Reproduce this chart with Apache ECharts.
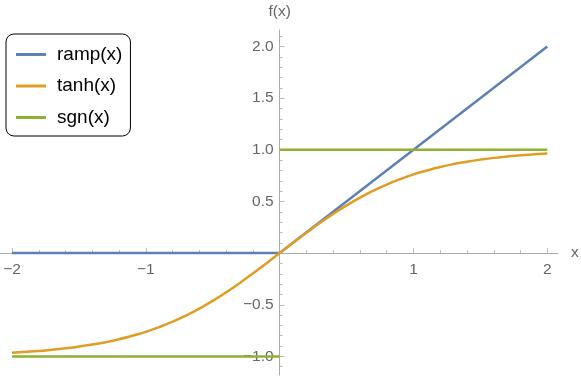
<!DOCTYPE html>
<html lang="en">
  <head>
    <meta charset="UTF-8" />
    <title>ramp, tanh, sgn</title>
    <script src="https://cdn.jsdelivr.net/npm/echarts@6.0.0/dist/echarts.min.js"></script>
    <style>
      html, body { margin: 0; padding: 0; background: #fff; }
      #chart { width: 581px; height: 377px; }
    </style>
  </head>
  <body>
    <div id="chart"></div>

    <script>
      // values
      var rampData = [[-2, 0], [0, 0], [2, 2]]
      var tanhData = [
        [-2, -0.964], [-1.9, -0.956], [-1.8, -0.947], [-1.7, -0.935], [-1.6, -0.922],
        [-1.5, -0.905], [-1.4, -0.885], [-1.3, -0.862], [-1.2, -0.834], [-1.1, -0.8],
        [-1, -0.762], [-0.9, -0.716], [-0.8, -0.664], [-0.7, -0.604], [-0.6, -0.537],
        [-0.5, -0.462], [-0.4, -0.38], [-0.3, -0.291], [-0.2, -0.197], [-0.1, -0.1],
        [0, 0], [0.1, 0.1], [0.2, 0.197], [0.3, 0.291], [0.4, 0.38],
        [0.5, 0.462], [0.6, 0.537], [0.7, 0.604], [0.8, 0.664], [0.9, 0.716],
        [1, 0.762], [1.1, 0.8], [1.2, 0.834], [1.3, 0.862], [1.4, 0.885],
        [1.5, 0.905], [1.6, 0.922], [1.7, 0.935], [1.8, 0.947], [1.9, 0.956], [2, 0.964]
      ]
      var sgnData = [[-2, -1], [0, -1], [0, "-"], [0, 1], [2, 1]]

      var seriesNames = ["ramp(x)", "tanh(x)", "sgn(x)"]
      var colors = ["#5E81B5", "#E19C24", "#8FB032"]

      // ticks and tick labels
      var xMajor = [-2, -1, 1, 2]
      var xMinor = [-1.8, -1.6, -1.4, -1.2, -0.8, -0.6, -0.4, -0.2, 0.2, 0.4, 0.6, 0.8, 1.2, 1.4, 1.6, 1.8]
      var yMajor = [-1, -0.5, 0.5, 1, 1.5, 2]
      var yMinor = [-1.1, -0.9, -0.8, -0.7, -0.6, -0.4, -0.3, -0.2, -0.1, 0.1, 0.2, 0.3, 0.4, 0.6, 0.7, 0.8, 0.9, 1.1, 1.2, 1.3, 1.4, 1.6, 1.7, 1.8, 1.9, 2.1]

      var font = "'Liberation Sans', Arial, sans-serif"
      var axisColor = "#aaa"
      var tickColor = "#bbb"
      var labelColor = "#666"

      function minus(s) {
        return String(s).replace("-", "\u2212")
      }

      var W = 581, H = 377
      var gridBox = { left: 0, right: 23, top: 30, bottom: 2 }
      var xRange = { min: -2.09, max: 2.08 }
      var yRange = { min: -1.18, max: 2.16 }

      // the axes cross at the origin: shift them in from the grid edges
      var gridW = W - gridBox.left - gridBox.right
      var gridH = H - gridBox.top - gridBox.bottom
      var xAxisOffset = -gridH * (0 - yRange.min) / (yRange.max - yRange.min)
      var yAxisOffset = -gridW * (0 - xRange.min) / (xRange.max - xRange.min)

      var chart = echarts.init(document.getElementById("chart"))

      function xAxisDef(ticks, len, main) {
        return {
          type: "value",
          min: xRange.min,
          max: xRange.max,
          position: "bottom",
          offset: xAxisOffset,
          name: main ? "x" : "",
          nameLocation: "end",
          nameGap: 13,
          nameTextStyle: { color: labelColor, fontSize: 15.5, fontFamily: font, padding: [3, 0, 0, 0] },
          axisLine: { show: main, onZero: false, lineStyle: { color: axisColor, width: 1 } },
          axisTick: { show: true, inside: true, length: len, customValues: ticks, lineStyle: { color: tickColor } },
          axisLabel: {
            show: main,
            customValues: xMajor,
            margin: 9,
            color: labelColor,
            fontSize: 15.5,
            fontFamily: font,
            formatter: function (v) { return minus(v) },
          },
          splitLine: { show: false },
        }
      }

      function yAxisDef(ticks, len, main) {
        return {
          type: "value",
          min: yRange.min,
          max: yRange.max,
          position: "left",
          offset: yAxisOffset,
          name: main ? "f(x)" : "",
          nameLocation: "end",
          nameGap: 10,
          nameTextStyle: { color: labelColor, fontSize: 15.5, fontFamily: font },
          axisLine: { show: main, onZero: false, lineStyle: { color: axisColor, width: 1 } },
          axisTick: { show: true, inside: true, length: len, customValues: ticks, lineStyle: { color: tickColor } },
          axisLabel: {
            show: main,
            customValues: yMajor,
            margin: 6,
            color: labelColor,
            fontSize: 15.5,
            fontFamily: font,
            formatter: function (v) { return minus(v.toFixed(1)) },
          },
          splitLine: { show: false },
        }
      }

      var option = {
        animation: false,
        grid: {
          left: gridBox.left,
          right: gridBox.right,
          top: gridBox.top,
          bottom: gridBox.bottom,
          outerBoundsMode: "none",
        },
        legend: {
          orient: "vertical",
          left: 6,
          top: 34,
          padding: [11, 8, 9, 10],
          itemGap: 12.5,
          itemWidth: 30,
          itemHeight: 3,
          icon: "rect",
          borderColor: "#000",
          borderWidth: 1,
          borderRadius: 8,
          backgroundColor: "#fff",
          textStyle: { fontSize: 19, color: "#000", fontFamily: font, padding: [0, 0, 0, 6] },
          data: seriesNames,
        },
        // axis 0: line, major ticks, labels; axis 1: minor ticks only
        xAxis: [xAxisDef(xMajor, 5, true), xAxisDef(xMinor, 3, false)],
        yAxis: [yAxisDef(yMajor, 5, true), yAxisDef(yMinor, 3, false)],
        series: [
          {
            name: seriesNames[0],
            type: "line",
            data: rampData,
            symbol: "none",
            color: colors[0],
            lineStyle: { width: 2.5 },
          },
          {
            name: seriesNames[1],
            type: "line",
            data: tanhData,
            smooth: true,
            symbol: "none",
            color: colors[1],
            lineStyle: { width: 2.5 },
          },
          {
            name: seriesNames[2],
            type: "line",
            data: sgnData,
            connectNulls: false,
            symbol: "none",
            color: colors[2],
            lineStyle: { width: 2.5 },
          },
        ],
      }
      chart.setOption(option)
    </script>
  </body>
</html>
